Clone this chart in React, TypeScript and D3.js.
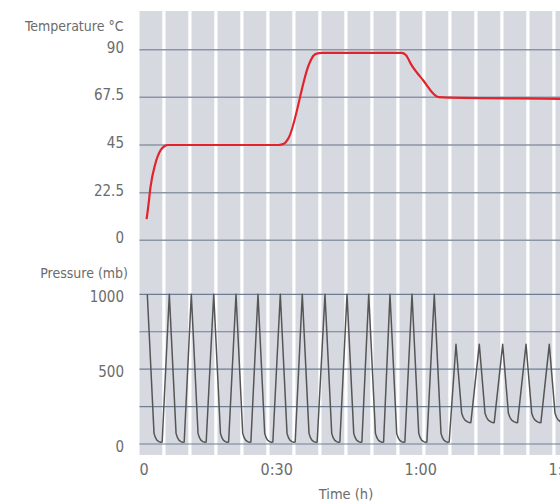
import React from "react";
import * as d3 from "d3";

const width = 560;
const height = 502;

// plot frame (pixels)
const panel = { left: 139.5, top: 11, bottom: 455, right: 560 };
const stripeStep = 26; // white separators in the grey panel
const stripeFirst = 163.9;

const fontFamily = "'Liberation Sans Narrow', 'DejaVu Sans Condensed', 'Roboto', sans-serif";
const textColor = "#6b6b6b";

// axes
const tempTicks = [0, 22.5, 45, 67.5, 90];
const pressureGrid = [0, 250, 500, 750, 1000];
const pressureTicks = [0, 500, 1000];
const timeTicks = [0, 30, 60, 90];
const timeLabels = ["0", "0:30", "1:00", "1:30"];

// temperature, minutes -> °C
const tempTime = [2.9, 3.3, 3.7, 4.7, 5.8, 6.6, 7.4, 30.4, 31.5, 32.4, 36.8, 37.6, 38.5, 39.4, 56.0, 56.9, 58.1, 60.5, 63.7, 64.7, 89.0, 92.0];
const tempValue = [10, 17, 25, 36, 42.5, 44.4, 45, 45, 45.6, 48, 83.5, 87, 88.3, 88.5, 88.5, 87.5, 82.7, 75.6, 67.6, 67.5, 66.8, 66.7];

// pressure, [minutes, mb]
const pressure: [number, number][] = [
  [3.04, 1000], [4.44, 71], [4.74, 42], [5.04, 26], [5.44, 16], [5.84, 12], [6.14, 13],
  [7.63, 1000], [9.03, 71], [9.33, 42], [9.63, 26], [10.03, 16], [10.43, 12], [10.73, 13],
  [12.21, 1000], [13.61, 71], [13.91, 42], [14.21, 26], [14.61, 16], [15.01, 12], [15.31, 13],
  [16.88, 1000], [18.28, 71], [18.58, 42], [18.88, 26], [19.28, 16], [19.68, 12], [19.98, 13],
  [21.52, 1000], [22.92, 71], [23.22, 42], [23.52, 26], [23.92, 16], [24.32, 12], [24.62, 13],
  [26.1, 1000], [27.5, 71], [27.8, 42], [28.1, 26], [28.5, 16], [28.9, 12], [29.2, 13],
  [30.75, 1000], [32.15, 71], [32.45, 42], [32.75, 26], [33.15, 16], [33.55, 12], [33.85, 13],
  [35.33, 1000], [36.73, 71], [37.03, 42], [37.33, 26], [37.73, 16], [38.13, 12], [38.43, 13],
  [40.06, 1000], [41.46, 71], [41.76, 42], [42.06, 26], [42.46, 16], [42.86, 12], [43.16, 13],
  [44.65, 1000], [46.05, 71], [46.35, 42], [46.65, 26], [47.05, 16], [47.45, 12], [47.75, 13],
  [49.17, 1000], [50.57, 71], [50.87, 42], [51.17, 26], [51.57, 16], [51.97, 12], [52.27, 13],
  [53.6, 1000], [55.0, 71], [55.3, 42], [55.6, 26], [56.0, 16], [56.4, 12], [56.7, 13],
  [58.19, 1000], [59.59, 71], [59.89, 42], [60.19, 26], [60.59, 16], [60.99, 12], [61.29, 13],
  [62.83, 1000], [64.23, 71], [64.53, 42], [64.83, 26], [65.23, 16], [65.63, 12], [65.93, 13],
  [67.35, 666], [68.54, 205], [68.85, 178], [69.23, 160], [69.75, 148], [70.27, 142], [70.45, 143],
  [72.21, 666], [73.4, 205], [73.71, 178], [74.09, 160], [74.61, 148], [75.13, 142], [75.31, 143],
  [77.08, 666], [78.27, 205], [78.58, 178], [78.96, 160], [79.48, 148], [80.0, 142], [80.18, 143],
  [81.94, 666], [83.13, 205], [83.44, 178], [83.82, 160], [84.34, 148], [84.86, 142], [85.04, 143],
  [86.79, 666], [87.98, 205], [88.29, 178], [88.67, 160], [89.19, 148], [89.71, 142], [89.89, 143],
  [91.65, 666], [92.84, 205],
];

const x = d3.scaleLinear().domain([0, 90]).range([132.7, 564.7]);
const yTemp = d3.scaleLinear().domain([0, 90]).range([240.3, 49.7]);
const yPres = d3.scaleLinear().domain([0, 1000]).range([444, 294.3]);

export default function App() {
  const stripes = d3.range(0, 16).map((i) => stripeFirst + i * stripeStep);

  const tempLine = d3
    .line<number>()
    .x((_, i) => x(tempTime[i]))
    .y((d) => yTemp(d))
    .curve(d3.curveMonotoneX);

  const presLine = d3
    .line<[number, number]>()
    .x((d) => x(d[0]))
    .y((d) => yPres(d[1]));

  return (
    <svg
      width={width}
      height={height}
      style={{ position: "absolute", left: 0, top: 0, display: "block" }}
      fontFamily={fontFamily}
    >
      <defs>
        <clipPath id="plot">
          <rect x={panel.left} y={panel.top} width={panel.right - panel.left} height={panel.bottom - panel.top} />
        </clipPath>
      </defs>

      {/* grey panel with white separators */}
      <rect x={panel.left} y={panel.top} width={panel.right - panel.left} height={panel.bottom - panel.top} fill="#d6d9e0" />
      {stripes.map((sx) => (
        <rect key={sx} x={sx - 1.6} y={panel.top} width={3.2} height={panel.bottom - panel.top} fill="#ffffff" />
      ))}

      {/* temperature grid */}
      {tempTicks.map((t) => (
        <g key={"t" + t}>
          <line x1={panel.left} x2={panel.right} y1={yTemp(t)} y2={yTemp(t)} stroke="#8b95a5" strokeWidth={1.5} />
          <text x={124} y={yTemp(t) + 3} textAnchor="end" fontSize={15} fill={textColor}>
            {t}
          </text>
        </g>
      ))}
      <text x={123.5} y={30.5} textAnchor="end" fontSize={14} fill={textColor}>
        Temperature °C
      </text>

      {/* pressure grid */}
      {pressureGrid.map((p) => (
        <line key={"p" + p} x1={panel.left} x2={panel.right} y1={yPres(p)} y2={yPres(p)} stroke="#6f7e95" strokeWidth={1.2} />
      ))}
      {pressureTicks.map((p) => (
        <text key={"pl" + p} x={124} y={yPres(p) + 7.5} textAnchor="end" fontSize={15} fill={textColor}>
          {p}
        </text>
      ))}
      <text x={128} y={278} textAnchor="end" fontSize={14} fill={textColor}>
        Pressure (mb)
      </text>

      {/* time axis */}
      {timeTicks.map((t, i) => {
        const tx = x(t);
        const inside = tx < panel.left;
        return (
          <text
            key={"x" + t}
            x={inside ? panel.left : tx}
            y={474.5}
            textAnchor={inside ? "start" : "middle"}
            fontSize={16}
            fill={textColor}
          >
            {timeLabels[i]}
          </text>
        );
      })}
      <text x={346} y={498.5} textAnchor="middle" fontSize={14.5} fill={textColor}>
        Time (h)
      </text>

      <g clipPath="url(#plot)">
        <path d={presLine(pressure) || ""} fill="none" stroke="#555555" strokeWidth={1.5} strokeLinejoin="round" />
        <path d={tempLine(tempValue) || ""} fill="none" stroke="#e3232b" strokeWidth={2.2} strokeLinejoin="round" />
      </g>
    </svg>
  );
}
